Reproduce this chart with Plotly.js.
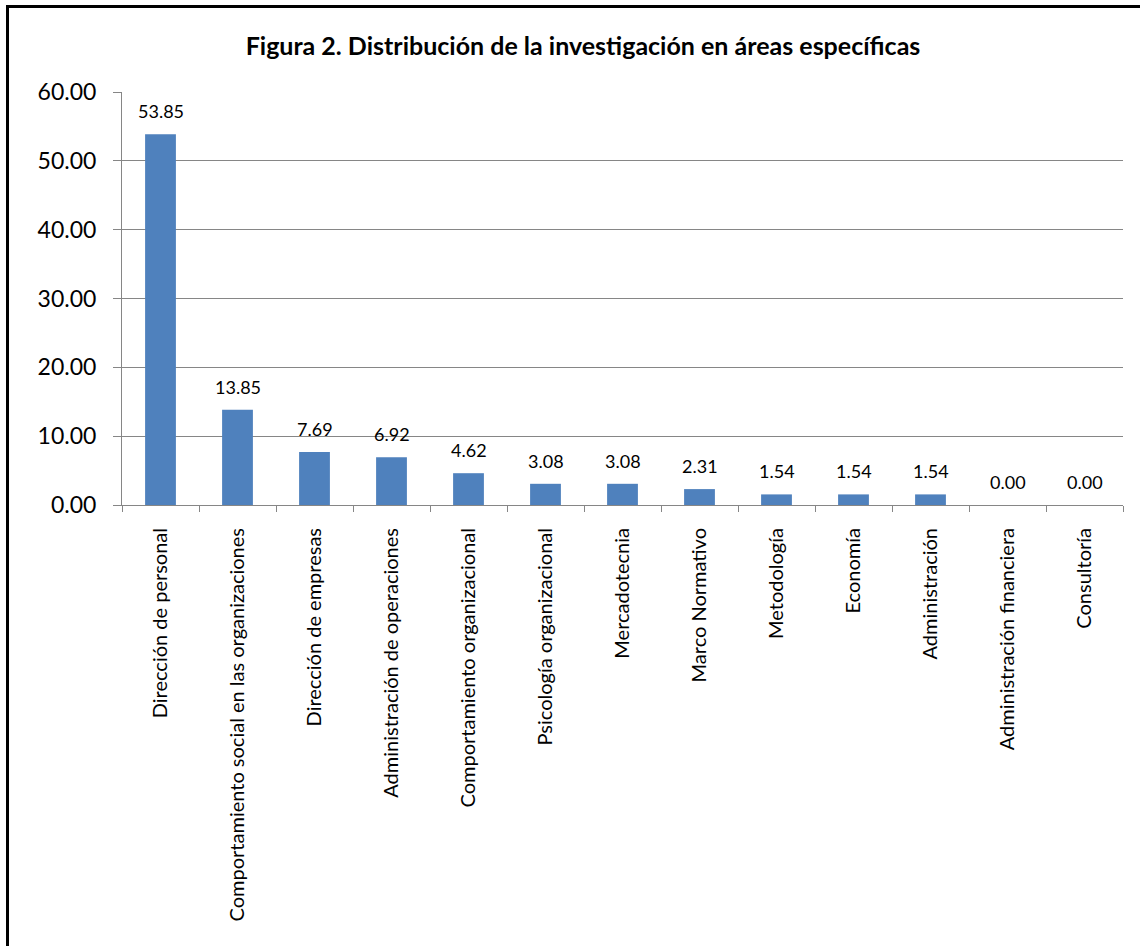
<!DOCTYPE html>
<html>
<head>
<meta charset="utf-8">
<script src="https://cdn.plot.ly/plotly-3.0.1.min.js"></script>
<style>
  html, body { margin: 0; padding: 0; background: #fff; }
  #wrap { position: relative; width: 1140px; height: 946px; }
  #chart { width: 1140px; height: 946px; }
  #frame { position: absolute; left: 6px; top: 5px; right: -10px; bottom: -10px;
           border-left: 3px solid #000; border-top: 3px solid #000; pointer-events: none; }
</style>
</head>
<body>
<div id="wrap">
  <div id="chart"></div>
  <div id="frame"></div>
</div>
<script>
const categories = [
  "Dirección de personal",
  "Comportamiento social en las organizaciones",
  "Dirección de empresas",
  "Administración de operaciones",
  "Comportamiento organizacional",
  "Psicología organizacional",
  "Mercadotecnia",
  "Marco Normativo",
  "Metodología",
  "Economía",
  "Administración",
  "Administración financiera",
  "Consultoría"
];
const values = [53.85, 13.85, 7.69, 6.92, 4.62, 3.08, 3.08, 2.31, 1.54, 1.54, 1.54, 0.00, 0.00];
const yTicks = [0, 10, 20, 30, 40, 50, 60];
const titleText = "Figura 2. Distribución de la investigación en áreas específicas";

const FONT = "Lato, 'Open Sans', sans-serif";

const trace = {
  type: "bar",
  x: categories,
  y: values,
  marker: { color: "#4F81BD" },
  hoverinfo: "x+y"
};

const annotations = categories.map((c, i) => ({
  x: c, y: values[i], xref: "x", yref: "y",
  text: values[i].toFixed(2),
  showarrow: false, yanchor: "bottom", yshift: 10,
  font: { family: FONT, size: 18, color: "#000" }
}));

const layout = {
  width: 1140, height: 946,
  paper_bgcolor: "#fff", plot_bgcolor: "#fff",
  margin: { l: 122, r: 17, t: 92, b: 441 },
  bargap: 0.6,
  showlegend: false,
  title: {
    text: "<b>" + titleText + "</b>",
    font: { family: FONT, size: 25, color: "#000" },
    x: 583 / 1140, xanchor: "center", y: 1 - 46 / 946, yanchor: "middle", xref: "container", yref: "container"
  },
  xaxis: {
    type: "category",
    tickangle: -90,
    tickfont: { family: FONT, size: 20, color: "#000" },
    showline: true, linecolor: "#868686", linewidth: 1,
    ticks: "outside", ticklen: 6, tickcolor: "#868686",
    tickson: "boundaries",
    ticklabelstandoff: 14,
    showgrid: false, zeroline: false,
    automargin: false
  },
  yaxis: {
    range: [0, 60],
    tickvals: yTicks,
    ticktext: yTicks.map(v => v.toFixed(2)),
    tickfont: { family: FONT, size: 23, color: "#000" },
    showline: true, linecolor: "#868686", linewidth: 1,
    ticks: "outside", ticklen: 8, tickcolor: "#868686",
    ticklabelstandoff: 12,
    showgrid: true, gridcolor: "#868686", gridwidth: 1,
    zeroline: false,
    automargin: false
  },
  annotations: annotations
};

Plotly.newPlot("chart", [trace], layout, { displayModeBar: false, staticPlot: true });
</script>
</body>
</html>
